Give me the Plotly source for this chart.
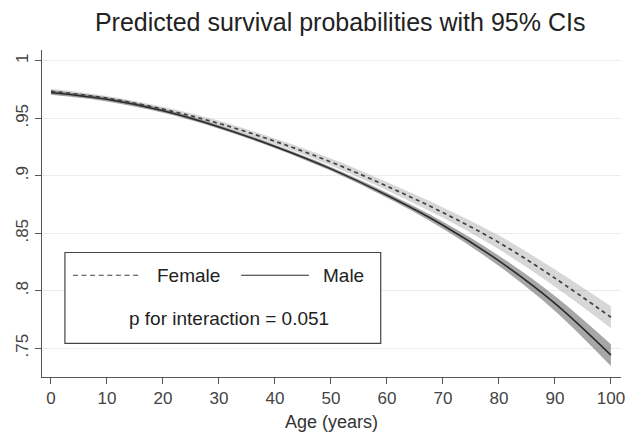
import plotly.graph_objects as go

# ---- data ----
age = [0, 10, 20, 30, 40, 50, 60, 70, 80, 90, 100]

female = [0.9735, 0.9675, 0.958, 0.9455, 0.930, 0.912, 0.891, 0.868, 0.842, 0.811, 0.777]
female_lo = [0.9712, 0.9655, 0.9560, 0.9432, 0.9275, 0.9090, 0.8875, 0.8635, 0.8360, 0.8035, 0.7675]
female_hi = [0.9758, 0.9695, 0.9600, 0.9478, 0.9325, 0.9150, 0.8945, 0.8725, 0.8480, 0.8185, 0.7865]

male = [0.9725, 0.9665, 0.9565, 0.9425, 0.9255, 0.906, 0.883, 0.857, 0.826, 0.789, 0.744]
male_lo = [0.9705, 0.9647, 0.9548, 0.9410, 0.9240, 0.9043, 0.8808, 0.8540, 0.8215, 0.7825, 0.7345]
male_hi = [0.9745, 0.9683, 0.9582, 0.9440, 0.9270, 0.9077, 0.8852, 0.8600, 0.8305, 0.7955, 0.7535]

x_ticks = [0, 10, 20, 30, 40, 50, 60, 70, 80, 90, 100]
x_ticklabels = ["0", "10", "20", "30", "40", "50", "60", "70", "80", "90", "100"]
y_ticks = [0.75, 0.8, 0.85, 0.9, 0.95, 1.0]
y_ticklabels = [".75", ".8", ".85", ".9", ".95", "1"]

title_text = "Predicted survival probabilities with 95% CIs"
x_title = "Age (years)"
legend_labels = ["Female", "Male"]
p_text = "p for interaction = 0.051"

FONT = "Liberation Sans, Arial, sans-serif"
fig = go.Figure()

# female CI band
fig.add_trace(go.Scatter(x=age, y=female_lo, mode="lines", line=dict(width=0, shape="spline", smoothing=1.0),
                         hoverinfo="skip", showlegend=False))
fig.add_trace(go.Scatter(x=age, y=female_hi, mode="lines", line=dict(width=0, shape="spline", smoothing=1.0),
                         fill="tonexty", fillcolor="rgba(150,150,150,0.38)",
                         hoverinfo="skip", showlegend=False))
# male CI band
fig.add_trace(go.Scatter(x=age, y=male_lo, mode="lines", line=dict(width=0, shape="spline", smoothing=1.0),
                         hoverinfo="skip", showlegend=False))
fig.add_trace(go.Scatter(x=age, y=male_hi, mode="lines", line=dict(width=0, shape="spline", smoothing=1.0),
                         fill="tonexty", fillcolor="rgba(95,95,95,0.55)",
                         hoverinfo="skip", showlegend=False))
# point estimates
fig.add_trace(go.Scatter(x=age, y=male, mode="lines", name=legend_labels[1],
                         line=dict(color="#2a2a2a", width=1.6, shape="spline", smoothing=1.0), showlegend=False))
fig.add_trace(go.Scatter(x=age, y=female, mode="lines", name=legend_labels[0],
                         line=dict(color="#404040", width=1.7, dash="4px,3.5px", shape="spline", smoothing=1.0),
                         showlegend=False))

# ---- custom legend box (paper coords) ----
fig.add_shape(type="rect", xref="paper", yref="paper", x0=0.0396, x1=0.585, y0=0.1027, y1=0.3807,
              line=dict(color="#444444", width=1.2), fillcolor="white", layer="above")
fig.add_shape(type="line", xref="paper", yref="paper", x0=0.0534, x1=0.1721, y0=0.3112, y1=0.3112,
              line=dict(color="#404040", width=1.2, dash="5px,3.6px"), layer="above")
fig.add_shape(type="line", xref="paper", yref="paper", x0=0.344, x1=0.461, y0=0.3112, y1=0.3112,
              line=dict(color="#2a2a2a", width=1.2), layer="above")
fig.add_annotation(xref="paper", yref="paper", x=0.1945, y=0.3112, text=legend_labels[0],
                   showarrow=False, xanchor="left", yanchor="middle",
                   font=dict(family=FONT, size=19, color="#222222"))
fig.add_annotation(xref="paper", yref="paper", x=0.482, y=0.3112, text=legend_labels[1],
                   showarrow=False, xanchor="left", yanchor="middle",
                   font=dict(family=FONT, size=19, color="#222222"))
fig.add_annotation(xref="paper", yref="paper", x=0.3236, y=0.178, text=p_text,
                   showarrow=False, xanchor="center", yanchor="middle",
                   font=dict(family=FONT, size=19, color="#222222"))

fig.update_layout(
    width=637, height=440,
    margin=dict(l=42, r=14, t=50, b=59),
    paper_bgcolor="white", plot_bgcolor="white",
    font=dict(family=FONT, color="#333333"),
    title=dict(text=title_text, x=0.534, xanchor="center", y=0.95, yanchor="middle",
               font=dict(family=FONT, size=25, color="#222222")),
    xaxis=dict(range=[-1.6, 101.8], tickvals=x_ticks, ticktext=x_ticklabels,
               showgrid=False, zeroline=False, showline=True, linecolor="#555555", linewidth=1,
               ticks="outside", ticklen=6, tickcolor="#555555",
               tickfont=dict(family=FONT, size=17, color="#444444"),
               title=dict(text=x_title, font=dict(family=FONT, size=18, color="#333333"), standoff=7)),
    yaxis=dict(range=[0.725, 1.0094], tickvals=y_ticks, ticktext=y_ticklabels,
               showgrid=True, gridcolor="#ececec", gridwidth=1, zeroline=False,
               showline=True, linecolor="#555555", linewidth=1,
               ticks="outside", ticklen=6, tickcolor="#555555", tickangle=-90,
               tickfont=dict(family=FONT, size=17, color="#444444")),
)

fig.write_html("out.html")
